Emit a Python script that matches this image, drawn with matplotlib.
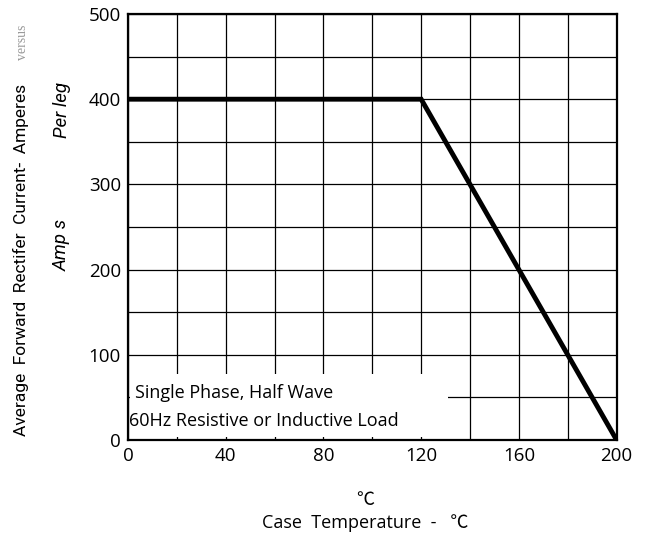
import matplotlib
matplotlib.use("Agg")
import matplotlib.pyplot as plt
from matplotlib.patches import Rectangle

plt.rcParams["font.family"] = ["Open Sans", "DejaVu Sans"]

# derating curve: case temperature (C) vs current (A)
temp_c = [0, 120, 200]
current_a = [400, 400, 0]

x_major = [0, 40, 80, 120, 160, 200]
x_minor = [20, 60, 100, 140, 180]
y_major = [0, 100, 200, 300, 400, 500]
y_minor = [50, 150, 250, 350, 450]

fig = plt.figure(figsize=(6.56, 5.38), dpi=100, facecolor="white")
ax = fig.add_axes([0.195, 0.182, 0.745, 0.792])

ax.set_xlim(0, 200)
ax.set_ylim(0, 500)
ax.set_xticks(x_major)
ax.set_xticks(x_minor, minor=True)
ax.set_yticks(y_major)
ax.set_yticks(y_minor, minor=True)
ax.tick_params(which="both", length=0, labelsize=13.5, pad=5)
ax.grid(which="both", color="black", linewidth=0.9, zorder=1)
ax.set_axisbelow(True)
for sp in ax.spines.values():
    sp.set_linewidth(1.6)

# note box hides the grid behind the text
ax.add_patch(Rectangle((1, 4), 130, 73, facecolor="white", edgecolor="none", zorder=2))
ax.text(3, 55, "Single Phase, Half Wave", fontsize=13, va="center", ha="left", zorder=3)
ax.text(0.3, 22, "60Hz Resistive or Inductive Load", fontsize=13, va="center", ha="left", zorder=3)

ax.plot(temp_c, current_a, color="black", linewidth=3.5, zorder=4,
        solid_capstyle="round", solid_joinstyle="miter")

# y-axis labels
fig.text(0.032, 0.190, "Average  Forward  Rectifer  Current-  Amperes",
         rotation=90, ha="center", va="bottom", fontsize=12.5,
         family=["Roboto", "DejaVu Sans"])
fig.text(0.035, 0.888, "versus", rotation=90, ha="center", va="bottom",
         fontsize=10, color="#999999", family=["Liberation Serif", "DejaVu Serif"])
fig.text(0.094, 0.795, "Per leg", rotation=90, ha="center", va="center",
         fontsize=13.5, style="italic", family=["Roboto", "DejaVu Sans"])
fig.text(0.094, 0.545, "Amp s", rotation=90, ha="center", va="center",
         fontsize=13.5, style="italic", family=["Roboto", "DejaVu Sans"])

# x-axis labels
fig.text(0.556, 0.071, "\u2103", ha="center", va="center", fontsize=13,
         family=["Noto Sans CJK SC", "DejaVu Sans"])
fig.text(0.556, 0.028, "Case  Temperature  -   \u2103", ha="center", va="center",
         fontsize=13, family=["Open Sans", "Noto Sans CJK SC", "DejaVu Sans"])

fig.savefig("out.png", dpi=100, facecolor="white")
